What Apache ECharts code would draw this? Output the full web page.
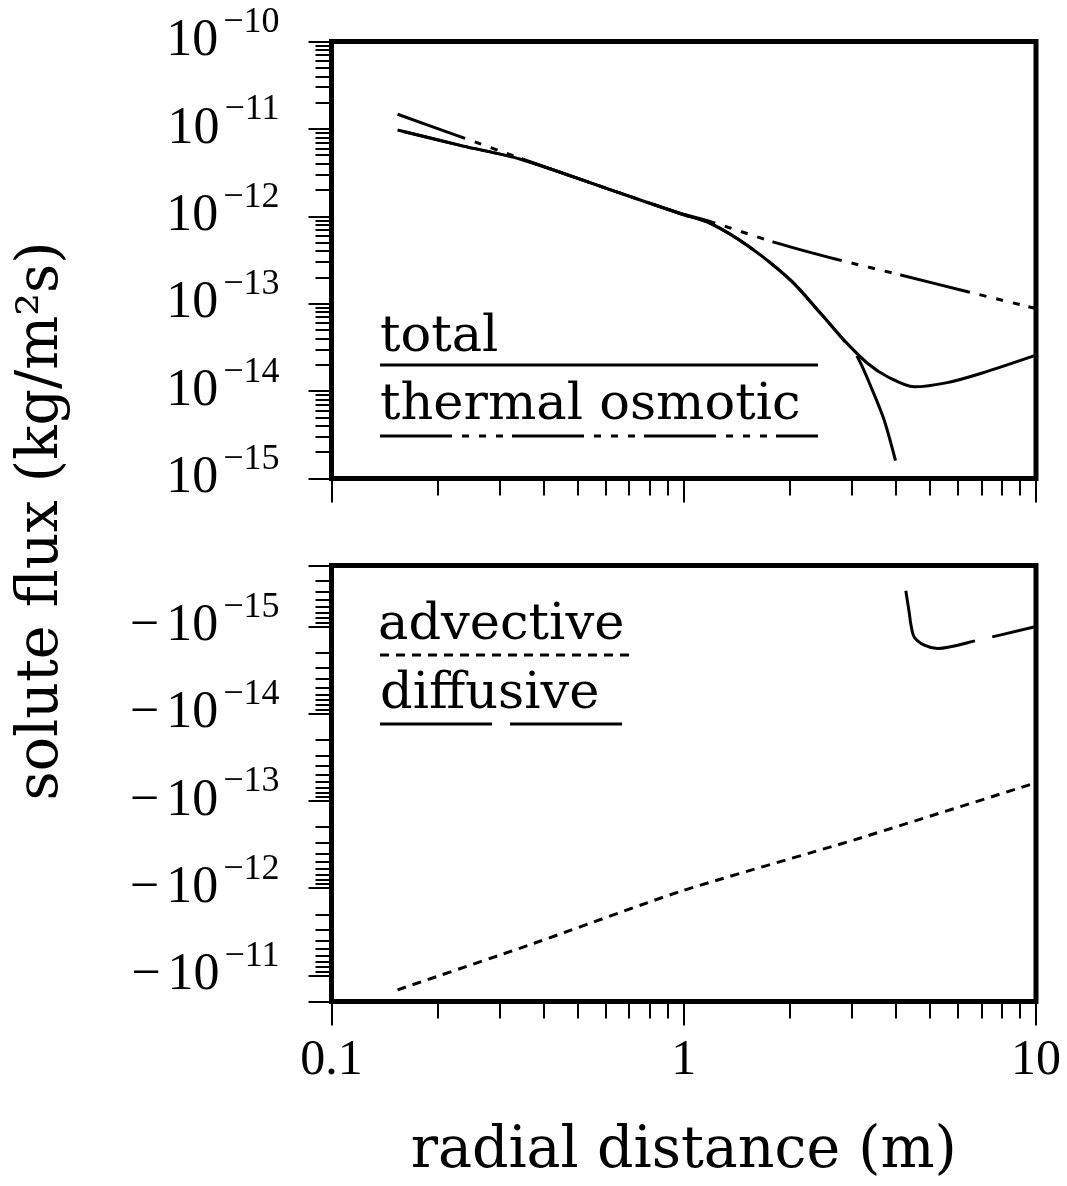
<!DOCTYPE html>
<html>
<head>
<meta charset="utf-8">
<script src="https://cdn.jsdelivr.net/npm/echarts@6/dist/echarts.min.js"></script>
<style>
  html, body { margin: 0; padding: 0; background: #fff; }
  #chart { width: 1067px; height: 1186px; }
</style>
</head>
<body>
<div id="chart"></div>
<script>
// Radial distance (m) and solute flux (kg/m^2 s) for each flux component
const thermalX    = [0.154, 0.235, 0.344, 0.6, 0.98, 1.19, 1.79, 2.73, 4.13, 6.4, 10];
const thermalFlux = [1.47e-11, 8.0e-12, 4.6e-12, 2.1e-12, 1.08e-12, 8.7e-13, 5.1e-13, 3.2e-13, 2.13e-13, 1.37e-13, 8.8e-14];

const totalX    = [0.154, 0.235, 0.344, 0.6, 0.98, 1.19, 1.52, 2.01, 2.45, 2.85, 3.33, 3.79, 4.51, 5.6, 7.0, 10];
const totalFlux = [9.7e-12, 6.4e-12, 4.5e-12, 2.1e-12, 1.07e-12, 8.3e-13, 4.6e-13, 1.86e-13, 7.7e-14, 3.83e-14, 2.07e-14, 1.46e-14, 1.12e-14, 1.25e-14, 1.6e-14, 2.58e-14];

// diffusive flux: positive branch (upper panel) and negative branch (lower panel)
const diffusivePosX    = [0.154, 0.235, 0.344, 0.6, 0.98, 1.19, 1.52, 2.01, 2.45, 2.85, 3.11, 3.44, 3.71, 4.0];
const diffusivePosFlux = [9.7e-12, 6.4e-12, 4.5e-12, 2.1e-12, 1.07e-12, 8.3e-13, 4.6e-13, 1.86e-13, 7.7e-14, 3.8e-14, 2.47e-14, 1.0e-14, 4.6e-15, 1.55e-15];
const diffusiveNegX    = [4.27, 4.37, 4.41, 4.51, 4.82, 5.26, 6.83, 10];
const diffusiveNegFlux = [-3.9e-16, -7.1e-16, -9.3e-16, -1.32e-15, -1.64e-15, -1.79e-15, -1.44e-15, -1.0e-15];

const advectiveX    = [0.154, 0.376, 0.98, 3.05, 10];
const advectiveFlux = [-1.47e-11, -4.3e-12, -1.09e-12, -2.8e-13, -6.2e-14];

// axis ticks
const xMajorTicks = [0.1, 1, 10];
const xTickLabels = ['0.1', '1', '10'];
const xMinorMantissas = [2, 3, 4, 5, 6, 7, 8, 9];
const topExponents = [-15, -14, -13, -12, -11, -10];
const bottomExponents = [-15, -14, -13, -12, -11];
const bottomRange = [2e-16, 2e-11];
const yMinorMantissas = [2, 3, 4, 5, 6, 7, 8, 9];

const clean = v => Number(v.toPrecision(6));
const xMinorTicks = [];
[-1, 0].forEach(e => xMinorMantissas.forEach(m => xMinorTicks.push(clean(m * Math.pow(10, e)))));

const topMajor = topExponents.map(e => clean(Math.pow(10, e)));
const topMinor = [];
topExponents.slice(0, -1).forEach(e => yMinorMantissas.forEach(m => topMinor.push(clean(m * Math.pow(10, e)))));

const bottomLabelValues = bottomExponents.map(e => clean(Math.pow(10, e)));
const bottomMajor = [bottomRange[0]].concat(bottomLabelValues, [bottomRange[1]]);
const bottomMinor = [];
[-16].concat(bottomExponents).forEach(e => yMinorMantissas.forEach(m => {
  const v = clean(m * Math.pow(10, e));
  if (v >= bottomRange[0] && v <= bottomRange[1]) bottomMinor.push(v);
}));

const pairs = (xs, ys, sign) => xs.map((x, i) => [x, sign * ys[i]]);

const SERIF = 'DejaVu Serif';
const NUM = 'Liberation Serif';
const MINUS = '\u2212';

const expRich = {
  m: { fontFamily: NUM, fontSize: 52, color: '#000', padding: [0, 7, 0, 0] },
  b: { fontFamily: NUM, fontSize: 52, color: '#000' },
  s: { fontFamily: NUM, fontSize: 36, color: '#000', padding: [0, 0, 38, 5] }
};
const expOf = v => Math.round(Math.log10(v));

const tickStyle = { color: '#000', width: 2 };

const chart = echarts.init(document.getElementById('chart'), null, { renderer: 'canvas' });

const grids = [
  { left: 331.5, top: 41.5, width: 704.5, height: 437 },
  { left: 331.5, top: 565.5, width: 704.5, height: 436 }
].map(g => Object.assign(g, { show: true, borderColor: '#000', borderWidth: 5, backgroundColor: 'transparent', containLabel: false }));

function xAxisFor(gridIndex, major, withLabels) {
  return {
    type: 'log', logBase: 10, min: 0.1, max: 10, gridIndex: gridIndex, position: 'bottom', offset: 0,
    axisLine: { show: false },
    splitLine: { show: false },
    axisTick: { show: true, inside: false, length: major ? 24 : 17, lineStyle: tickStyle,
                customValues: major ? xMajorTicks : xMinorTicks },
    axisLabel: withLabels ? {
      show: true, customValues: xMajorTicks, margin: 34,
      fontFamily: NUM, fontSize: 50, color: '#000',
      formatter: v => {
        let best = 0;
        xMajorTicks.forEach((t, i) => { if (Math.abs(Math.log10(t) - Math.log10(v)) < Math.abs(Math.log10(xMajorTicks[best]) - Math.log10(v))) best = i; });
        return xTickLabels[best];
      }
    } : { show: false },
    name: withLabels ? 'radial distance (m)' : '',
    nameLocation: 'middle', nameGap: 122,
    nameTextStyle: { fontFamily: SERIF, fontSize: 57, color: '#000' }
  };
}

function yAxisFor(gridIndex, major, bottom) {
  const base = {
    type: 'log', logBase: 10, gridIndex: gridIndex, position: 'left', offset: 0,
    axisLine: { show: false },
    splitLine: { show: false },
    axisTick: { show: true, inside: false, length: major ? 23 : 16, lineStyle: tickStyle }
  };
  if (!bottom) {
    base.min = topMajor[0];
    base.max = topMajor[topMajor.length - 1];
    base.axisTick.customValues = major ? topMajor : topMinor;
    base.axisLabel = major ? {
      show: true, customValues: topMajor, margin: 52, align: 'right', verticalAlign: 'middle',
      formatter: v => '{b|10}{s|' + MINUS + Math.abs(expOf(v)) + '}',
      rich: expRich
    } : { show: false };
  } else {
    base.min = bottomRange[0];
    base.max = bottomRange[1];
    base.inverse = true;
    base.axisTick.customValues = major ? bottomMajor : bottomMinor;
    base.axisLabel = major ? {
      show: true, customValues: bottomLabelValues, margin: 52, align: 'right', verticalAlign: 'middle',
      formatter: v => '{m|' + MINUS + '}{b|10}{s|' + MINUS + Math.abs(expOf(v)) + '}',
      rich: expRich
    } : { show: false };
  }
  return base;
}

const lineBase = { type: 'line', symbol: 'none', showSymbol: false, animation: false, clip: true };

const thermalDash = [72, 10, 7, 10, 7, 10, 7, 9];
const diffusiveDash = [112, 18];
const advectiveDash = [9, 7];

chart.setOption({
  animation: false,
  backgroundColor: '#fff',
  grid: grids,
  xAxis: [xAxisFor(0, true, false), xAxisFor(0, false, false), xAxisFor(1, true, true), xAxisFor(1, false, false)],
  yAxis: [yAxisFor(0, true, false), yAxisFor(0, false, false), yAxisFor(1, true, true), yAxisFor(1, false, true)],
  series: [
    Object.assign({}, lineBase, {
      name: 'diffusive', xAxisIndex: 0, yAxisIndex: 0, smooth: 0.3,
      data: pairs(diffusivePosX, diffusivePosFlux, 1),
      lineStyle: { color: '#000', width: 3, type: diffusiveDash, dashOffset: 124 }
    }),
    Object.assign({}, lineBase, {
      name: 'thermal osmotic', xAxisIndex: 0, yAxisIndex: 0, smooth: 0.2,
      data: pairs(thermalX, thermalFlux, 1),
      lineStyle: { color: '#000', width: 3, type: thermalDash }
    }),
    Object.assign({}, lineBase, {
      name: 'total', xAxisIndex: 0, yAxisIndex: 0, smooth: 0.3,
      data: pairs(totalX, totalFlux, 1),
      lineStyle: { color: '#000', width: 3, type: 'solid' }
    }),
    Object.assign({}, lineBase, {
      name: 'advective', xAxisIndex: 2, yAxisIndex: 2, smooth: 0.2,
      data: pairs(advectiveX, advectiveFlux, -1),
      lineStyle: { color: '#000', width: 3, type: advectiveDash }
    }),
    Object.assign({}, lineBase, {
      name: 'diffusive (negative)', xAxisIndex: 2, yAxisIndex: 2, smooth: 0.3,
      data: pairs(diffusiveNegX, diffusiveNegFlux, -1),
      lineStyle: { color: '#000', width: 3, type: diffusiveDash }
    })
  ],
  graphic: [
    // vertical axis title shared by both panels
    { type: 'text', x: 42, y: 521, rotation: Math.PI / 2,
      style: { x: 0, y: 0, text: 'solute flux (kg/m\u00B2s)', font: '57px "DejaVu Serif"', fill: '#000', align: 'center', verticalAlign: 'middle' } },
    // key, upper panel
    { type: 'text', x: 380, y: 338, style: { text: 'total', font: '51px "DejaVu Serif"', fill: '#000', align: 'left', verticalAlign: 'middle' } },
    { type: 'line', shape: { x1: 380, y1: 365, x2: 818, y2: 365 }, style: { stroke: '#000', lineWidth: 3 } },
    { type: 'text', x: 380, y: 406, style: { text: 'thermal osmotic', font: '51px "DejaVu Serif"', fill: '#000', align: 'left', verticalAlign: 'middle' } },
    { type: 'line', shape: { x1: 380, y1: 436, x2: 818, y2: 436 }, style: { stroke: '#000', lineWidth: 3, lineDash: thermalDash } },
    // key, lower panel
    { type: 'text', x: 378, y: 626, style: { text: 'advective', font: '51px "DejaVu Serif"', fill: '#000', align: 'left', verticalAlign: 'middle' } },
    { type: 'line', shape: { x1: 380, y1: 655, x2: 633, y2: 655 }, style: { stroke: '#000', lineWidth: 3, lineDash: advectiveDash } },
    { type: 'text', x: 380, y: 695, style: { text: 'diffusive', font: '51px "DejaVu Serif"', fill: '#000', align: 'left', verticalAlign: 'middle' } },
    { type: 'line', shape: { x1: 380, y1: 724, x2: 623, y2: 724 }, style: { stroke: '#000', lineWidth: 3, lineDash: diffusiveDash } }
  ]
});
</script>
</body>
</html>
